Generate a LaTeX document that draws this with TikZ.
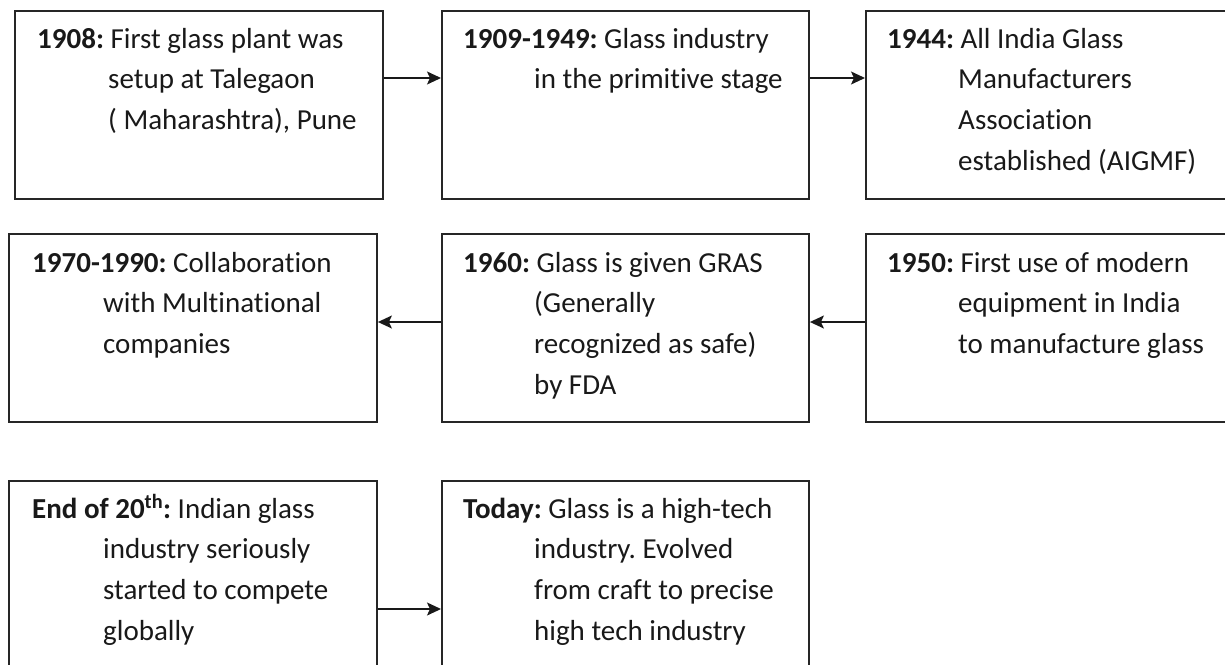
\documentclass[tikz,border=0pt]{standalone}
\usepackage{fontspec}
\setmainfont{Carlito}[Ligatures=NoCommon]
\usetikzlibrary{calc,arrows.meta}
\frenchspacing
\newcommand\tlentry[2]{\parbox[t]{360pt}{\frenchspacing\hangindent=71pt\hangafter=1\noindent\textbf{#1} #2}}
\begin{document}
\begin{tikzpicture}[x=1pt,y=-1pt,
 box/.style={draw=black!85, line width=1.9pt, rectangle, anchor=north west, inner sep=0pt},
 txt/.style={anchor=base west, inner sep=0pt, text=black!90, font=\fontsize{29}{40.7}\selectfont},
 arr/.style={line width=1.5pt, draw=black!90, -{Stealth[length=14pt,width=13pt,inset=3pt]}}]
\useasboundingbox (0,0) rectangle (1225,664);
\clip (0,0) rectangle (1225,664);
\node[box, minimum width=368pt, minimum height=188pt] (b1) at (14,10) {};
\node[box, minimum width=367pt, minimum height=188pt] (b2) at (441,10) {};
\node[box, minimum width=400pt, minimum height=188pt] (b3) at (865,10) {};
\node[box, minimum width=368pt, minimum height=188pt] (b4) at (8,233) {};
\node[box, minimum width=367pt, minimum height=188pt] (b5) at (441,233) {};
\node[box, minimum width=400pt, minimum height=188pt] (b6) at (865,233) {};
\node[box, minimum width=368pt, minimum height=220pt] (b7) at (8,480) {};
\node[box, minimum width=367pt, minimum height=220pt] (b8) at (441,480) {};

\node[txt] (t1) at ($(b1.north west)+(23,38)$) {\tlentry{1908:}{First glass plant was\\ setup at Talegaon\\ ( Maharashtra), Pune}};
\node[txt] (t2) at ($(b2.north west)+(22,38)$) {\tlentry{1909-1949:}{Glass industry\\ in the primitive stage}};
\node[txt] (t3) at ($(b3.north west)+(22,38)$) {\tlentry{1944:}{All India Glass\\ Manufacturers\\ Association\\ established (AIGMF)}};
\node[txt] (t4) at ($(b4.north west)+(24,39)$) {\tlentry{1970-1990:}{Collaboration\\ with Multinational\\ companies}};
\node[txt] (t5) at ($(b5.north west)+(22,39)$) {\tlentry{1960:}{Glass is given GRAS\\ (Generally\\ recognized as safe)\\ by FDA}};
\node[txt] (t6) at ($(b6.north west)+(22,39)$) {\tlentry{1950:}{First use of modern\\ equipment in India\\ to manufacture glass}};
\node[txt] (t7) at ($(b7.north west)+(24,38)$) {\tlentry{End of 20\textsuperscript{th}:}{Indian glass\\ industry seriously\\ started to compete\\ globally}};
\node[txt] (t8) at ($(b8.north west)+(22,38)$) {\tlentry{Today:}{Glass is a high-tech\\ industry. Evolved\\ from craft to precise\\ high tech industry}};

\draw[arr] ($(b1.north east)+(0,68)$) -- ($(b2.north west)+(0,68)$);
\draw[arr] ($(b2.north east)+(0,68)$) -- ($(b3.north west)+(0,68)$);
\draw[arr] ($(b6.north west)+(0,89)$) -- ($(b5.north east)+(0,89)$);
\draw[arr] ($(b5.north west)+(0,89)$) -- ($(b4.north east)+(0,89)$);
\draw[arr] ($(b7.north east)+(0,129)$) -- ($(b8.north west)+(0,129)$);
\end{tikzpicture}
\end{document}
